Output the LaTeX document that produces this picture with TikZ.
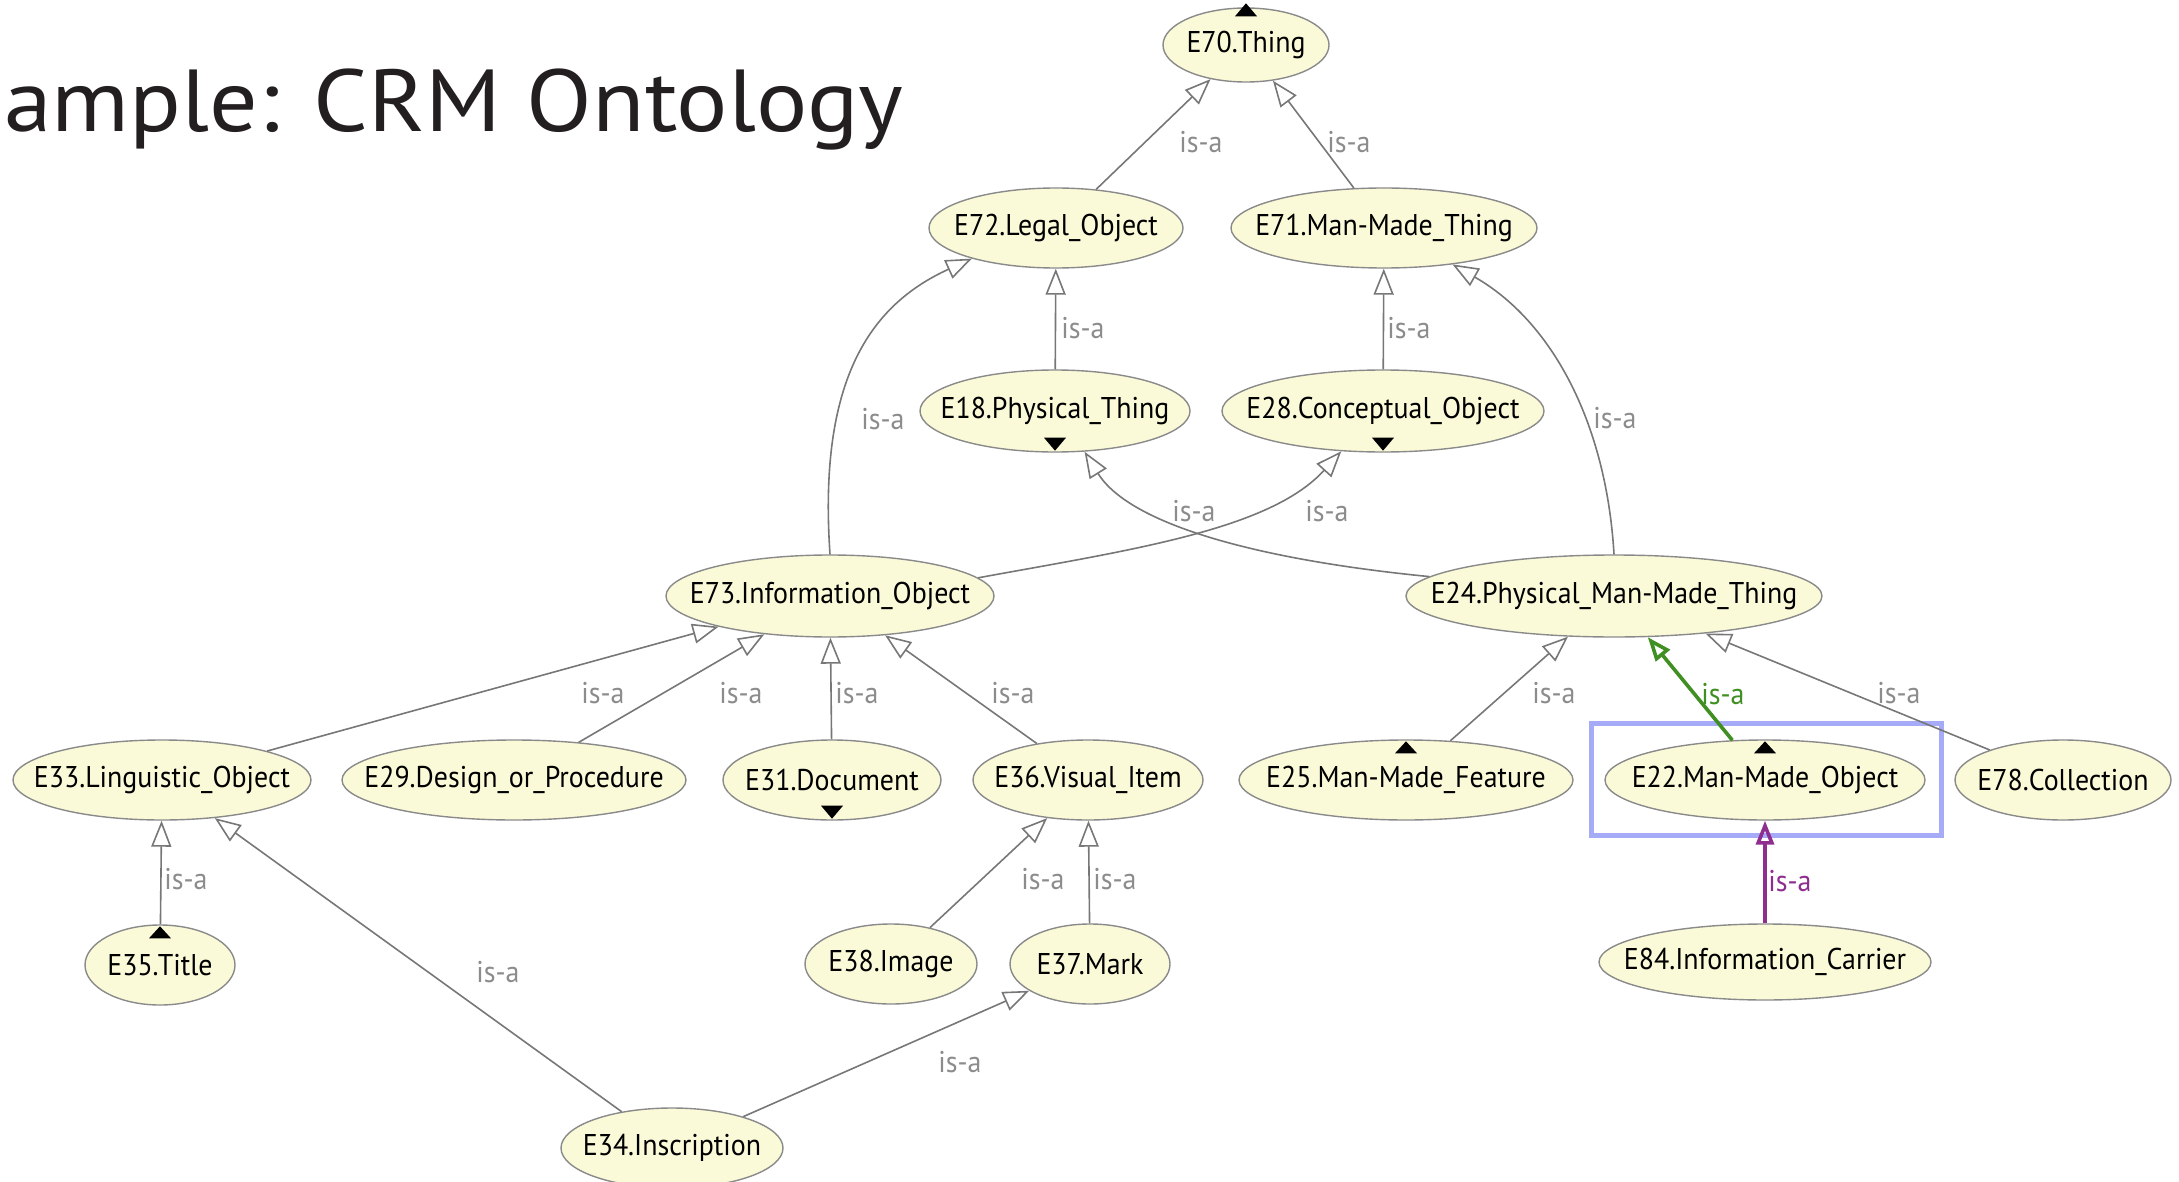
\documentclass[tikz,border=0pt]{standalone}
\usepackage{fontspec}
\usetikzlibrary{arrows.meta,shapes.geometric}
\newfontfamily\titlefont{PT Sans}[FakeStretch=1.09]
\newfontfamily\nodefont{PT Sans}[FakeStretch=0.93]
\definecolor{nodefill}{HTML}{FBFAD8}
\definecolor{nodeline}{HTML}{8A8A8A}
\definecolor{edgegray}{HTML}{777777}
\definecolor{labelgray}{HTML}{8C8C8C}
\definecolor{isagreen}{HTML}{3F8F22}
\definecolor{isapurple}{HTML}{8E2E8E}
\definecolor{selblue}{HTML}{A6ABF7}
\definecolor{titleink}{HTML}{231F20}
\newcommand\clsname[1]{\makebox[0pt]{#1}}
\begin{document}
\begin{tikzpicture}[x=0.5pt,y=-0.5pt,
  cls/.style 2 args={ellipse, draw=nodeline, line width=0.7pt, fill=nodefill,
    inner sep=0pt, minimum width=#1pt, minimum height=#2pt,
    font=\nodefont\fontsize{15}{17}\selectfont, text=black},
  isa/.style={draw=edgegray, line width=0.8pt,
    -{Triangle[open, length=13pt, width=10pt]}},
  isagreenedge/.style={draw=isagreen, line width=1.8pt,
    -{Triangle[open, length=12pt, width=9pt]}},
  isapurpleedge/.style={draw=isapurple, line width=1.8pt,
    -{Triangle[open, length=12pt, width=9pt]}},
  isalabel/.style={inner sep=0pt, text=labelgray,
    font=\nodefont\fontsize{15}{17}\selectfont},
  marker/.style={fill=black},
  selbox/.style={draw=selblue, line width=2.5pt, rectangle, inner sep=0pt}
]
\useasboundingbox (0,0) rectangle (2179,1182);

% heading
\node[anchor=base west, inner sep=0pt, text=titleink,
  font=\titlefont\fontsize{44}{50}\selectfont] (title) at (4,132) {ample: CRM Ontology};

% selection frame around the focused class
\node[selbox, minimum width=175pt, minimum height=56pt] (sel) at (1766,779) {};

% classes
\node[cls={83}{37}]  (e70) at (1246,45)  {\clsname{E70.Thing}};
\node[cls={127}{40}] (e72) at (1056,228) {\clsname{E72.Legal\_Object}};
\node[cls={153}{40}] (e71) at (1384,228) {\clsname{E71.Man-Made\_Thing}};
\node[cls={135}{41}] (e18) at (1055,411) {\clsname{E18.Physical\_Thing}};
\node[cls={161}{41}] (e28) at (1383,411) {\clsname{E28.Conceptual\_Object}};
\node[cls={164}{41}] (e73) at (830,596)  {\clsname{E73.Information\_Object}};
\node[cls={208}{41}] (e24) at (1614,596) {\clsname{E24.Physical\_Man-Made\_Thing}};
\node[cls={149}{40}] (e33) at (162,780)  {\clsname{E33.Linguistic\_Object}};
\node[cls={172}{40}] (e29) at (514,780)  {\clsname{E29.Design\_or\_Procedure}};
\node[cls={109}{40}] (e31) at (832,780)  {\clsname{E31.Document}};
\node[cls={115}{40}] (e36) at (1088,780) {\clsname{E36.Visual\_Item}};
\node[cls={167}{40}] (e25) at (1406,780) {\clsname{E25.Man-Made\_Feature}};
\node[cls={160}{40}] (e22) at (1765,780) {\clsname{E22.Man-Made\_Object}};
\node[cls={108}{40}] (e78) at (2063,780) {\clsname{E78.Collection}};
\node[cls={75}{40}]  (e35) at (160,965)  {\clsname{E35.Title}};
\node[cls={86}{40}]  (e38) at (891,964)  {\clsname{E38.Image}};
\node[cls={80}{40}]  (e37) at (1090,964) {\clsname{E37.Mark}};
\node[cls={166}{38}] (e84) at (1765,962) {\clsname{E84.Information\_Carrier}};
\node[cls={111}{40}] (e34) at (672,1148) {\clsname{E34.Inscription}};

% expand / collapse markers
\fill[marker] ([shift={(-11,9)}]e70.north) -- ([shift={(11,9)}]e70.north) -- ([shift={(0,-4)}]e70.north) -- cycle;
\fill[marker] ([shift={(-11,-15)}]e18.south) -- ([shift={(11,-15)}]e18.south) -- ([shift={(0,-2)}]e18.south) -- cycle;
\fill[marker] ([shift={(-11,-15)}]e28.south) -- ([shift={(11,-15)}]e28.south) -- ([shift={(0,-2)}]e28.south) -- cycle;
\fill[marker] ([shift={(-11,-15)}]e31.south) -- ([shift={(11,-15)}]e31.south) -- ([shift={(0,-2)}]e31.south) -- cycle;
\fill[marker] ([shift={(-11,14)}]e35.north) -- ([shift={(11,14)}]e35.north) -- ([shift={(0,2)}]e35.north) -- cycle;
\fill[marker] ([shift={(-11,14)}]e25.north) -- ([shift={(11,14)}]e25.north) -- ([shift={(0,2)}]e25.north) -- cycle;
\fill[marker] ([shift={(-11,14)}]e22.north) -- ([shift={(11,14)}]e22.north) -- ([shift={(0,2)}]e22.north) -- cycle;

% subclass links
\draw[isa] (e72) -- (e70);
\draw[isa] (e71) -- (e70);
\draw[isa] (e18) -- (e72);
\draw[isa] (e28) -- (e71);
\draw[isa] (e73.north) .. controls (818,380) and (870,305) .. (e72.200);
\draw[isa] (e24.north) .. controls (1606,420) and (1550,320) .. (e71.332);
\draw[isa] (e73.7) .. controls (1130,550) and (1270,530) .. (e28.224);
\draw[isa] (e24.174) .. controls (1260,560) and (1130,525) .. (e18.306);
\draw[isa] (e33) -- (e73);
\draw[isa] (e29) -- (e73);
\draw[isa] (e31) -- (e73);
\draw[isa] (e36) -- (e73);
\draw[isa] (e25) -- (e24);
\draw[isagreenedge] (e22) -- (e24);
\draw[isa] (e78) -- (e24);
\draw[isa] (e35) -- (e33);
\draw[isa] (e34) -- (e33);
\draw[isa] (e38) -- (e36);
\draw[isa] (e37) -- (e36);
\draw[isa] (e34) -- (e37);
\draw[isapurpleedge] (e84) -- (e22);

% link labels
\node[isalabel] (l7270) at (1201,142) {is-a};
\node[isalabel] (l7170) at (1349,142) {is-a};
\node[isalabel] (l1872) at (1083,328) {is-a};
\node[isalabel] (l2871) at (1409,328) {is-a};
\node[isalabel] (l7372) at (883,419)  {is-a};
\node[isalabel] (l2471) at (1615,418) {is-a};
\node[isalabel] (l2418) at (1194,511) {is-a};
\node[isalabel] (l7328) at (1327,511) {is-a};
\node[isalabel] (l3373) at (603,693)  {is-a};
\node[isalabel] (l2973) at (741,693)  {is-a};
\node[isalabel] (l3173) at (857,693)  {is-a};
\node[isalabel] (l3673) at (1013,693) {is-a};
\node[isalabel] (l2524) at (1554,693) {is-a};
\node[isalabel, text=isagreen] (l2224) at (1723,694) {is-a};
\node[isalabel] (l7824) at (1899,693) {is-a};
\node[isalabel] (l3533) at (186,879)  {is-a};
\node[isalabel] (l3433) at (498,972)  {is-a};
\node[isalabel] (l3836) at (1043,879) {is-a};
\node[isalabel] (l3736) at (1115,879) {is-a};
\node[isalabel] (l3437) at (960,1062) {is-a};
\node[isalabel, text=isapurple] (l8422) at (1790,881) {is-a};
\end{tikzpicture}
\end{document}
